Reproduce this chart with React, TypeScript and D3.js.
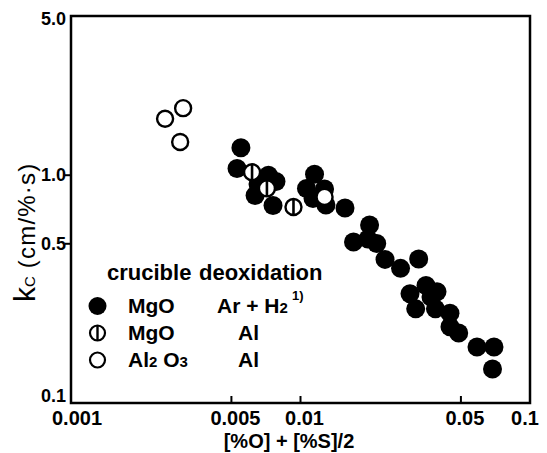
import React from 'react';
import * as d3 from 'd3';

// MgO crucible, Ar + H2 deoxidation (filled)
const mgoArH2 = [
  [0.0055, 1.32], [0.00529, 1.07], [0.00725, 1.0], [0.00782, 0.939], [0.00634, 0.815],
  [0.00653, 0.915], [0.00759, 0.736], [0.01151, 1.01], [0.01062, 0.875], [0.01273, 0.87],
  [0.01134, 0.791], [0.01291, 0.74], [0.01563, 0.718], [0.02, 0.605], [0.01702, 0.509],
  [0.01968, 0.525], [0.02148, 0.501], [0.02335, 0.427], [0.02728, 0.39], [0.03273, 0.429],
  [0.03, 0.302], [0.03523, 0.328], [0.03934, 0.308], [0.03703, 0.292], [0.03177, 0.259],
  [0.03873, 0.259], [0.0448, 0.248], [0.0448, 0.216], [0.0489, 0.203], [0.05875, 0.176],
  [0.06967, 0.176], [0.06865, 0.141],
];
// MgO crucible, Al deoxidation (half marker)
const mgoAl = [[0.00615, 1.03], [0.00714, 0.875], [0.00932, 0.725]];
// Al2O3 crucible, Al deoxidation (open)
const al2o3Al = [[0.00257, 1.77], [0.00308, 1.97], [0.00299, 1.4], [0.01273, 0.803]];

const xTicks = [0.001, 0.005, 0.01, 0.05, 0.1];
const xTickLabels = ['0.001', '0.005', '0.01', '0.05', '0.1'];
const yTicks = [0.1, 0.5, 1.0, 5.0];
const yTickLabels = ['0.1', '0.5', '1.0', '5.0'];

const W = 547;
const H = 453;
const font = '"Liberation Sans", Arial, sans-serif';

export default function App() {
  const x = d3.scaleLog().domain([0.001, 0.1]).range([71, 530]);
  const y = d3.scaleLog().domain([0.1, 5]).range([403, 16]);
  const [x0, x1] = x.range();
  const [y0, y1] = y.range();

  return (
    <svg width={W} height={H} style={{ position: 'absolute', left: 0, top: 0, background: '#fff' }}
      fontFamily={font}>
      {/* frame */}
      <rect x={x0} y={y1} width={x1 - x0} height={y0 - y1} fill="none" stroke="#000" strokeWidth={2.5} />

      {/* x ticks, pointing inward */}
      {xTicks.slice(1, -1).map(t => (
        <line key={'xt' + t} x1={x(t)} x2={x(t)} y1={y0} y2={y0 - 7} stroke="#000" strokeWidth={2} />
      ))}
      {xTicks.map((t, i) => (
        <text key={'xl' + t} x={x(t) + (i === 0 ? 6 : i === xTicks.length - 1 ? -5 : 4)} y={425}
          textAnchor="middle" fontSize={20} fontWeight="bold">{xTickLabels[i]}</text>
      ))}

      {/* y ticks, pointing outward */}
      {yTicks.slice(1, -1).map(t => (
        <line key={'yt' + t} x1={x0} x2={x0 - 6} y1={y(t)} y2={y(t)} stroke="#000" strokeWidth={2} />
      ))}
      {yTicks.map((t, i) => (
        <text key={'yl' + t} x={66} y={y(t) + (i === 0 ? -1 : i === yTicks.length - 1 ? 9 : 6)}
          textAnchor="end" fontSize={18} fontWeight="bold">{yTickLabels[i]}</text>
      ))}

      {/* axis titles */}
      <text x={289} y={448} textAnchor="middle" fontSize={20} fontWeight="bold">[%O] + [%S]/2</text>
      <text transform="translate(35,302) rotate(-90)" fontSize={30}>
        k<tspan fontSize={15}>C</tspan>
        <tspan fontSize={24} dx={8} letterSpacing={1.2}>(cm/%·s)</tspan>
      </text>

      {/* data */}
      {mgoArH2.map((d, i) => (
        <circle key={'f' + i} cx={x(d[0])} cy={y(d[1])} r={9.5} fill="#000" />
      ))}
      {mgoAl.map((d, i) => (
        <g key={'h' + i} transform={`translate(${x(d[0])},${y(d[1])})`}>
          <circle r={8} fill="#fff" stroke="#000" strokeWidth={2.4} />
          <line x1={0} x2={0} y1={-8} y2={8} stroke="#000" strokeWidth={2.6} />
        </g>
      ))}
      {al2o3Al.map((d, i) => (
        <circle key={'o' + i} cx={x(d[0])} cy={y(d[1])} r={8} fill="#fff" stroke="#000" strokeWidth={2.4} />
      ))}

      {/* legend */}
      <g fontWeight="bold">
        <text x={107} y={280} fontSize={22}>crucible</text>
        <text x={199} y={280} fontSize={22}>deoxidation</text>

        <circle cx={97.5} cy={306} r={9} fill="#000" />
        <text x={128} y={313} fontSize={21}>MgO</text>
        <text x={217} y={313} fontSize={21}>Ar + H<tspan fontSize={15}>2</tspan></text>
        <text x={292} y={300} fontSize={13}>1)</text>

        <g transform="translate(97.5,333)">
          <circle r={7.5} fill="#fff" stroke="#000" strokeWidth={2.2} />
          <line x1={0} x2={0} y1={-7.5} y2={7.5} stroke="#000" strokeWidth={2.4} />
        </g>
        <text x={128} y={340} fontSize={21}>MgO</text>
        <text x={238} y={340} fontSize={21}>Al</text>

        <circle cx={97.5} cy={360} r={7.5} fill="#fff" stroke="#000" strokeWidth={2.2} />
        <text x={128} y={367} fontSize={21}>Al<tspan fontSize={15}>2</tspan> O<tspan fontSize={15}>3</tspan></text>
        <text x={238} y={367} fontSize={21}>Al</text>
      </g>
    </svg>
  );
}
